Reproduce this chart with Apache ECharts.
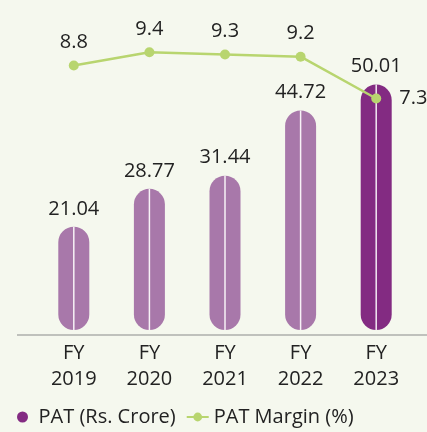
<!DOCTYPE html>
<html>
<head>
<meta charset="utf-8">
<script src="https://cdn.jsdelivr.net/npm/echarts@6/dist/echarts.min.js"></script>
<style>
  html, body { margin: 0; padding: 0; background: #f5f8ee; }
  #chart { width: 427px; height: 432px; }
</style>
</head>
<body>
<div id="chart"></div>
<script>
// data
const years = ['FY\n2019', 'FY\n2020', 'FY\n2021', 'FY\n2022', 'FY\n2023'];
const pat = [21.04, 28.77, 31.44, 44.72, 50.01];
const patMargin = [8.8, 9.4, 9.3, 9.2, 7.3];

const LIGHT = '#a878aa';
const DARK = '#832b82';
const GREEN = '#b8d56f';
const FONT = '"Open Sans"';

const el = document.getElementById('chart');
const inst = echarts.init(el, null, { renderer: 'canvas' });

inst.setOption({
  backgroundColor: '#f5f8ee',
  animation: false,
  textStyle: { fontFamily: FONT },
  grid: { left: 36, right: 13, top: 38, bottom: 97 },
  legend: {
    left: 12,
    bottom: 0,
    itemGap: 10,
    itemWidth: 22,
    itemHeight: 11,
    textStyle: { fontSize: 20, color: '#222', fontFamily: FONT },
    data: [
      { name: 'PAT (Rs. Crore)', icon: 'circle', itemStyle: { color: DARK } },
      { name: 'PAT Margin (%)' }
    ]
  },
  xAxis: {
    type: 'category',
    data: years,
    axisLine: { show: false },
    axisTick: { show: false },
    axisLabel: { color: '#222', fontSize: 20, lineHeight: 26, margin: 5, fontFamily: FONT }
  },
  yAxis: [
    { type: 'value', min: -1, max: 59.5, show: false },
    { type: 'value', min: -3.45, max: 10.05, show: false }
  ],
  graphic: [{
    type: 'line',
    shape: { x1: 17, y1: 335, x2: 427, y2: 335 },
    style: { stroke: '#8a8a8a', lineWidth: 1.2 }
  }],
  series: [
    {
      name: 'PAT (Rs. Crore)',
      type: 'bar',
      data: pat,
      barWidth: 31,
      itemStyle: {
        borderRadius: 15.5,
        color: p => (p.dataIndex === pat.length - 1 ? DARK : LIGHT)
      },
      label: {
        show: true,
        position: 'top',
        distance: 8,
        fontSize: 20,
        color: '#222',
        fontFamily: FONT
      },
      z: 2
    },
    {
      // thin white divider down the middle of each bar
      name: 'divider',
      type: 'custom',
      data: pat,
      silent: true,
      z: 3,
      renderItem: (params, api) => {
        const top = api.coord([api.value(0), api.value(1)]);
        const base = api.coord([api.value(0), 0]);
        return {
          type: 'line',
          shape: { x1: top[0], y1: top[1], x2: base[0], y2: base[1] },
          style: { stroke: '#ffffff', lineWidth: 1.5, opacity: 0.9 }
        };
      },
      encode: { x: 0, y: 1 }
    },
    {
      name: 'PAT Margin (%)',
      type: 'line',
      yAxisIndex: 1,
      data: patMargin.map((v, i) => i === patMargin.length - 1
        ? { value: v, label: { position: 'right', distance: 18 } }
        : v),
      color: GREEN,
      symbol: 'circle',
      symbolSize: 10,
      lineStyle: { width: 2.5, color: GREEN },
      itemStyle: { color: GREEN },
      label: {
        show: true,
        position: 'top',
        distance: 8,
        fontSize: 20,
        color: '#222',
        fontFamily: FONT
      },
      z: 5
    }
  ]
});
</script>
</body>
</html>
